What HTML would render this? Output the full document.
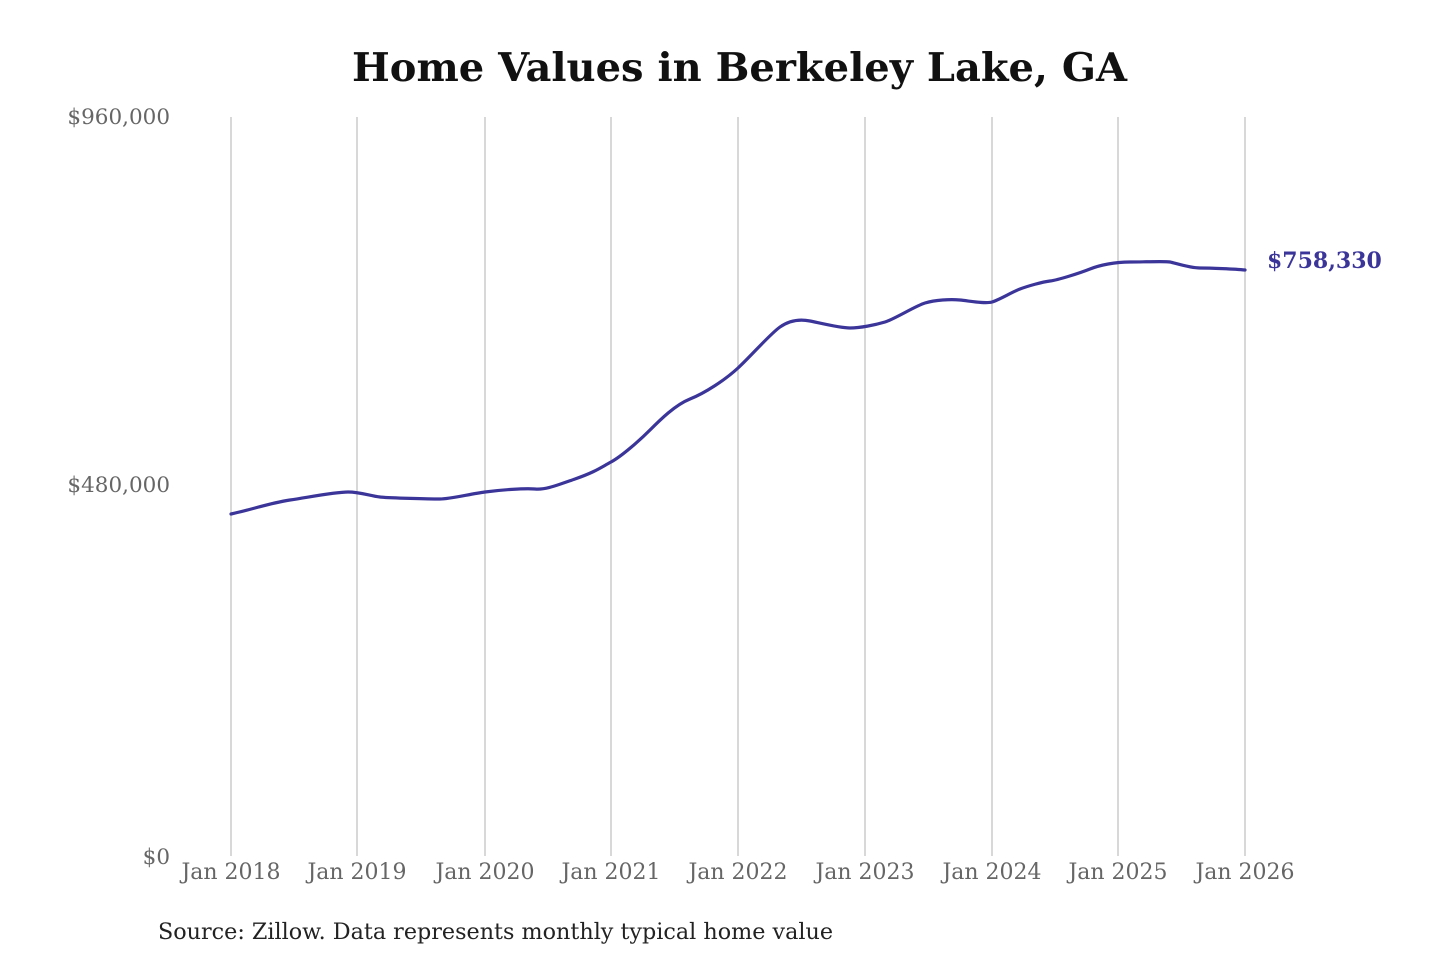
<!DOCTYPE html>
<html><head><meta charset="utf-8"><style>
html,body{margin:0;padding:0;background:#fff;}
svg{display:block;}
</style></head><body>
<svg width="1440" height="960" xmlns="http://www.w3.org/2000/svg" font-family="'DejaVu Serif','Liberation Serif',serif">
<rect width="1440" height="960" fill="#fff"/>
<text x="352" y="81" textLength="775" lengthAdjust="spacingAndGlyphs" font-size="39" font-weight="bold" fill="#111">Home Values in Berkeley Lake, GA</text>
<g stroke="#c4c4c4" stroke-width="1.3">
<line x1="231" y1="117" x2="231" y2="856"/>
<line x1="357" y1="117" x2="357" y2="856"/>
<line x1="485" y1="117" x2="485" y2="856"/>
<line x1="611" y1="117" x2="611" y2="856"/>
<line x1="738" y1="117" x2="738" y2="856"/>
<line x1="865" y1="117" x2="865" y2="856"/>
<line x1="992" y1="117" x2="992" y2="856"/>
<line x1="1118" y1="117" x2="1118" y2="856"/>
<line x1="1245" y1="117" x2="1245" y2="856"/>
</g>
<g font-size="21.5" fill="#666" text-anchor="end">
<text x="170" y="124">$960,000</text>
<text x="170" y="492">$480,000</text>
<text x="170" y="864">$0</text>
</g>
<g font-size="22" fill="#666" text-anchor="middle">
<text x="231" y="879">Jan 2018</text>
<text x="357" y="879">Jan 2019</text>
<text x="485" y="879">Jan 2020</text>
<text x="611" y="879">Jan 2021</text>
<text x="738" y="879">Jan 2022</text>
<text x="865" y="879">Jan 2023</text>
<text x="992" y="879">Jan 2024</text>
<text x="1118" y="879">Jan 2025</text>
<text x="1245" y="879">Jan 2026</text>
</g>
<path fill="none" stroke="#3b3599" stroke-width="3.2" stroke-linejoin="round" stroke-linecap="round" d="M231,514 C250,510 270,503 290,500 S335,492 348,492 S370,496 380,497 S430,499 440,499 S470,494 485,492 S525,488 535,489 S555,486 575,479 S600,468 611,462 S640,440 650,430 S675,405 690,399 S725,380 738,368 S770,334 780,327 S800,319 810,321 S840,328 850,328 S875,325 885,322 S915,306 925,303 S950,299 960,300 S985,304 992,302 S1012,292 1020,289 S1042,282 1050,281 S1080,273 1090,269 S1115,262 1130,262 S1165,261 1170,262 S1190,268 1200,268 S1235,269 1245,270"/>
<text x="1267" y="268" font-size="22" font-weight="bold" fill="#3b3599">$758,330</text>
<text x="158" y="939" textLength="675" lengthAdjust="spacingAndGlyphs" font-size="22" fill="#222">Source: Zillow. Data represents monthly typical home value</text>
</svg>
</body></html>
